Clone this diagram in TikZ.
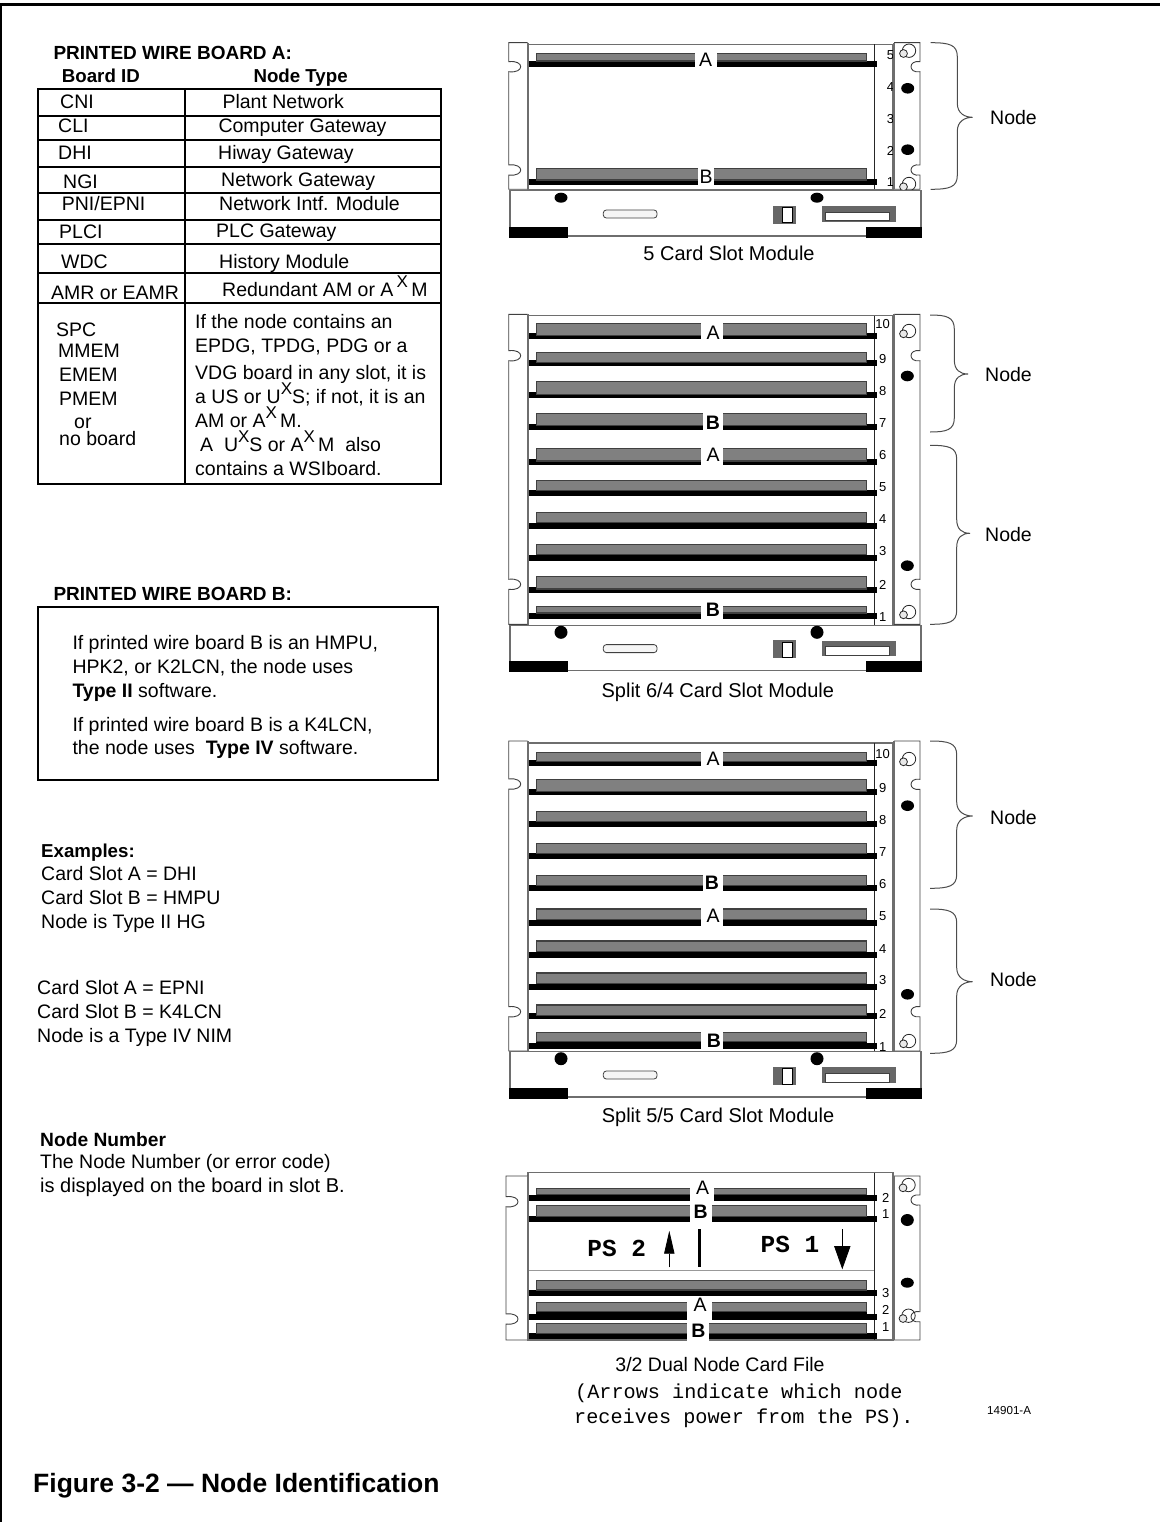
\documentclass[tikz,border=0pt]{standalone}
\usepackage{fontspec}
\setmainfont{Liberation Sans}
\newfontfamily\typefont{Liberation Mono}
\usetikzlibrary{arrows.meta,positioning}
\definecolor{cCard}{HTML}{808080}
\definecolor{cEdge}{HTML}{404040}
\definecolor{cFrame}{HTML}{6E6E6E}
\definecolor{cSwirl}{HTML}{E8E8E8}

% one board: card top, card bottom, rail bottom
\newcommand{\cardrow}[3]{%
  \fill[black] (527,{#3-6}) rectangle (877,#3);
  \fill[black] (536,#2) rectangle (867,#3);
  \draw[cardbar] (536.6,#1) rectangle (866.4,#2);
}
\newcommand{\slotgap}[4]{\fill[white] (#1,#3) rectangle (#2,#4);}
% chassis with both ears: top, bottom, notch, notch
\newcommand{\chassis}[4]{%
  \draw[frameline] (528,{#1+1.5}) rectangle (893,#2);
  \draw[thinline] (874.3,{#1+1.5}) -- (874.3,#2);
}
\newcommand{\earx}{508.7}
\newcommand{\leftear}[4]{%
  \draw[earline] (527.7,#1) -- (\earx,#1) -- (\earx,{#3-5})
    .. controls ({\earx+16},{#3-7}) and ({\earx+16},{#3+7}) .. (\earx,{#3+5})
    -- (\earx,{#4-5})
    .. controls ({\earx+16},{#4-7}) and ({\earx+16},{#4+7}) .. (\earx,{#4+5})
    -- (\earx,#2) -- (527.7,#2);
  \draw[sideline] (527.7,#1) -- (527.7,#2);
}
\newcommand{\rightear}[4]{%
  \draw[earline] (894,#1) -- (920,#1) -- (920,{#3-5})
    .. controls (908,{#3-7}) and (908,{#3+7}) .. (920,{#3+5})
    -- (920,{#4-5})
    .. controls (908,{#4-7}) and (908,{#4+7}) .. (920,{#4+5})
    -- (920,#2) -- (894,#2);
  \draw[sideline] (894,#1) -- (894,#2);
}
\newcommand{\swirl}[2]{%
  \draw[thinline] ({#1+1.5},#2) circle (6.7);
  \draw[thinline,fill=cSwirl] ({#1-4},{#2+2.8}) circle (3.9);
}
% base unit below a card file: top edge, height of the two dots
\newcommand{\basepanel}[2]{%
  \draw[frameline,fill=white] (510,#1) rectangle (921,{#1+45.3});
  \fill[black] (509,{#1+36}) rectangle (568,{#1+47});
  \fill[black] (866,{#1+36}) rectangle (922,{#1+47});
  \fill[black] (561,{#1+7}) ellipse (6.5 and #2);
  \fill[black] (817,{#1+7}) ellipse (6.5 and #2);
  \draw[cEdge,line width=0.8pt,fill=black!4,rounded corners=3pt] (603.3,{#1+19.3}) rectangle (657,{#1+27.3});
  \fill[cCard!80!black] (773.3,{#1+15}) rectangle (796.3,{#1+33});
  \draw[black,fill=white] (781.7,{#1+16.5}) rectangle (791.7,{#1+32});
  \fill[cCard!80!black] (821.7,{#1+15.3}) rectangle (895.7,{#1+31});
  \draw[cEdge,fill=white] (825,{#1+21.3}) rectangle (889,{#1+30});
}
\newcommand{\nodebrace}[6]{%
  \draw[bracket] (#1,#4) .. controls ({#2-8},#4) and (#2,{#4+2}) .. (#2,{#4+14})
    -- (#2,{#5-14}) .. controls (#2,{#5-4}) and ({#3-8},#5) .. (#3,#5)
    .. controls ({#3-8},#5) and (#2,{#5+4}) .. (#2,{#5+14})
    -- (#2,{#6-14}) .. controls (#2,{#6-2}) and ({#2-8},#6) .. (#1,#6);
}
\newcommand{\supx}{\raisebox{.42em}{\fontsize{17}{17}\selectfont X}}

\begin{document}
\begin{tikzpicture}[
  x=1pt, y=-1pt,
  font=\fontsize{19.5}{22}\selectfont,
  txt/.style={anchor=west, inner sep=0pt, text height=14pt, text depth=0pt},
  head/.style={txt, font=\fontsize{18.7}{22}\selectfont\bfseries},
  midtxt/.style={txt, anchor=center},
  capt/.style={midtxt, font=\fontsize{20}{22}\selectfont},
  slotnum/.style={midtxt, font=\fontsize{13}{15}\selectfont, text height=9.5pt},
  slotA/.style={midtxt},
  slotB/.style={midtxt, font=\fontsize{19.5}{22}\selectfont\bfseries},
  cardbar/.style={draw=cEdge, fill=cCard, line width=1.2pt},
  frameline/.style={draw=cFrame, line width=1.1pt},
  thinline/.style={draw=black!85, line width=0.8pt},
  earline/.style={draw=black!75, fill=white, line width=0.9pt},
  sideline/.style={draw=cFrame, line width=2.4pt},
  bracket/.style={draw=black!70, line width=1pt},
  grid/.style={draw=black, line width=2pt},
]
\useasboundingbox (0,0) rectangle (1160,1522);

% ---------------- page frame ----------------
\draw[line width=2.4pt] (1,1522) -- (1,4.5) -- (1160,4.5);

% ---------------- printed wire board A ----------------
\node (headA) [head, font=\fontsize{19}{22}\selectfont\bfseries] at (53.3,52.3) {PRINTED WIRE BOARD A:};
\node (headId) [head] at (61.7,75.7) {Board ID};
\node (headType) [head] at (253.3,76) {Node Type};
\draw[grid] (38.3,89.3) rectangle (441,484.3);
\draw[grid] (185,89.3) -- (185,484.3);
\foreach \ly in {116,140,166.7,193.3,220,244.3,273.3,303.3}
  \draw[grid] (38.3,\ly) -- (441,\ly);
\foreach \nm/\nx/\ny/\ntxt in {
  a/60/102/CNI, b/58/126/CLI, c/58/153/DHI, d/63/182/NGI,
  e/61.7/204/PNI\slash EPNI, f/59/232/PLCI, g/61/262/WDC, h/51/292/AMR or EAMR,
  i/56/329/SPC, j/58/350/MMEM, k/59/374/EMEM, l/59/398/PMEM, m/74/421/or, n/59/438/no board}
  \node (id\nm) [txt] at (\nx,\ny) {\ntxt};
\foreach \nm/\nx/\ny/\ntxt in {
  a/222.3/102/Plant Network, b/218.3/126/Computer Gateway, c/218/153/Hiway Gateway,
  d/221/180/Network Gateway, e/219/204/Network Intf. Module, f/216/230/PLC Gateway,
  g/219/262/History Module, h/222/289/{Redundant AM or A\,\supx\,M},
  i/195/321/If the node contains an, j/195/345/{EPDG, TPDG, PDG or a},
  k/195/372/{VDG board in any slot, it is}, l/195/396/{a US or U\supx S; if not, it is an},
  m/195/420/{AM or A\supx\,M.}, n/200/444/{A\ \ U\supx S or A\supx\,M\ \ also},
  o/195/468/contains a WSIboard.}
  \node (type\nm) [txt] at (\nx,\ny) {\ntxt};

% ---------------- printed wire board B ----------------
\node (headB) [head, font=\fontsize{19}{22}\selectfont\bfseries] at (53.3,593.3) {PRINTED WIRE BOARD B:};
\draw[grid] (38.3,607.3) rectangle (438.3,780);
\node (bLineA) [txt] at (72.3,642.3) {If printed wire board B is an HMPU,};
\node (bLineB) [txt] at (72.3,666) {HPK2, or K2LCN, the node uses};
\node (bLineC) [txt] at (72.3,690) {\textbf{Type II} software.};
\node (bLineD) [txt] at (72.3,724) {If printed wire board B is a K4LCN,};
\node (bLineE) [txt] at (72.3,747.3) {the node uses\ \ \textbf{Type IV} software.};

% ---------------- examples ----------------
\node (exHead) [head] at (41,850) {Examples:};
\node (exA) [txt] at (41,873) {Card Slot A = DHI};
\node (exB) [txt] at (41,897) {Card Slot B = HMPU};
\node (exC) [txt] at (41,921) {Node is Type II HG};
\node (exD) [txt] at (37,987) {Card Slot A = EPNI};
\node (exE) [txt] at (37,1011) {Card Slot B = K4LCN};
\node (exF) [txt] at (37,1035) {Node is a Type IV NIM};
\node (numHead) [head, font=\fontsize{19.2}{22}\selectfont\bfseries] at (40,1139) {Node Number};
\node (numA) [txt] at (40,1161) {The Node Number (or error code)};
\node (numB) [txt, font=\fontsize{20}{22}\selectfont] at (40,1185) {is displayed on the board in slot B.};

% ---------------- 5 card slot module ----------------
\chassis{42.7}{189.3}{66.7}{170}
\cardrow{53.3}{61}{66.7}
\cardrow{168.3}{180}{185}
\slotgap{694.7}{716.7}{50}{68}
\slotgap{698}{714.3}{166}{187}
\node (fiveA) [slotA] at (705.5,60) {A};
\node (fiveB) [slotA] at (706,176.7) {B};
\foreach \n/\ny in {5/54.3,4/87,3/118.7,2/151,1/182}
  \node (fiveN\n) [slotnum] at (890.5,\ny) {\n};
\leftear{42.7}{189.3}{66.7}{170}
\rightear{42.7}{189.3}{66.7}{170}
\swirl{907.5}{50.7}
\swirl{907.5}{184}
\fill[black] (907.7,88.3) ellipse (6.5 and 5.3);
\fill[black] (907.7,149.7) ellipse (6.5 and 5.3);
\basepanel{190.7}{5}
\nodebrace{930.7}{957.3}{972.7}{42.7}{117.3}{189.3}
\node (fiveNode) [txt] at (990,118) {Node};
\node (fiveCap) [capt] at (729,254) {5 Card Slot Module};

% ---------------- split 6/4 module ----------------
\chassis{314.3}{625.3}{355.7}{584.3}
\foreach \ct/\cb/\rb in {323.3/335.7/339, 352.3/362.3/365.7, 381.7/394.3/397.7,
  413.3/425.7/429.7, 448.3/461/465, 480.3/490.3/495.7, 512.3/522.3/529,
  544.3/554.3/561, 576.3/589/593, 606.3/613/619}
  \cardrow{\ct}{\cb}{\rb}
\slotgap{701}{723}{321}{341}
\slotgap{703}{723}{411}{432}
\slotgap{701}{723}{446}{467}
\slotgap{701}{723}{604}{620}
\node (sixA) [slotA] at (713,332.3) {A};
\node (sixB) [slotB] at (713,422.3) {B};
\node (fourA) [slotA] at (713,454) {A};
\node (fourB) [slotB] at (713,609) {B};
\foreach \n/\ny in {10/324,9/359,8/391,7/423,6/455,5/487,4/519,3/551,2/585,1/617}
  \node (sixN\n) [slotnum] at (882.7,\ny) {\n};
\leftear{314.3}{624.3}{355.7}{584.3}
\rightear{314.3}{624.3}{355.7}{584.3}
\swirl{907.5}{331}
\swirl{907.5}{612}
\fill[black] (907.3,376) ellipse (6.5 and 5.3);
\fill[black] (907.3,565.7) ellipse (6.5 and 5.3);
\basepanel{625.3}{6.5}
\nodebrace{930}{954.3}{968}{315}{374}{432}
\nodebrace{930}{956.7}{970}{445.3}{533.3}{624.3}
\node (sixNode) [txt] at (985,374) {Node};
\node (fourNode) [txt] at (985,534.3) {Node};
\node (sixCap) [capt] at (717.8,690.7) {Split 6/4 Card Slot Module};

% ---------------- split 5/5 module ----------------
\chassis{741.5}{1051.7}{784}{1011.7}
\foreach \ct/\cb/\rb in {752.3/761.7/766, 779.3/791.7/795, 811.3/821.7/826.7,
  843.3/853.3/858.7, 875.3/885.7/890.7, 909/919.3/925.7, 941/951.7/957.7,
  973/983.7/989.7, 1005/1015.7/1018.7, 1032.3/1041.7/1049}
  \cardrow{\ct}{\cb}{\rb}
\slotgap{701}{723}{750}{768}
\slotgap{703}{723}{873}{892}
\slotgap{701}{723}{907}{927}
\slotgap{701}{723}{1030}{1051}
\node (fiveTopA) [slotA] at (713,758.3) {A};
\node (fiveTopB) [slotB] at (712,882.7) {B};
\node (fiveLowA) [slotA] at (713,915) {A};
\node (fiveLowB) [slotB] at (714,1040) {B};
\foreach \n/\ny in {10/753.3,9/787.7,8/820,7/852,6/884,5/916,4/948.7,3/980,2/1014,1/1046.7}
  \node (splitN\n) [slotnum] at (882.7,\ny) {\n};
\leftear{741}{1051}{784}{1011.7}
\rightear{741}{1051}{784.3}{1011.7}
\swirl{907.5}{759}
\swirl{907.5}{1041}
\fill[black] (907.5,805.7) ellipse (6.5 and 5.3);
\fill[black] (907.5,994.3) ellipse (6.5 and 5.3);
\basepanel{1051.7}{6.5}
\nodebrace{930}{956.7}{972.7}{741}{816}{888.3}
\nodebrace{930}{956.7}{972.7}{909}{981.7}{1053.3}
\node (splitNode) [txt] at (990,817) {Node};
\node (lowNode) [txt] at (990,979) {Node};
\node (splitCap) [capt] at (718,1115) {Split 5/5 Card Slot Module};

% ---------------- 3/2 dual node card file ----------------
\renewcommand{\earx}{506}
\chassis{1171.2}{1340}{1201.7}{1319}
\draw[draw=cFrame!70, line width=1pt] (528,1270) -- (874,1270);
\foreach \ct/\cb/\rb in {1188.3/1194.7/1200.7, 1205.7/1216.7/1222, 1280.7/1290/1296,
  1302.3/1311.7/1319.7, 1323.3/1333.3/1339}
  \cardrow{\ct}{\cb}{\rb}
\slotgap{690}{714.3}{1176}{1202}
\slotgap{690}{712}{1202}{1224}
\slotgap{687.3}{711.7}{1298}{1321}
\slotgap{687}{709}{1321}{1341}
\node (dualTopA) [slotA] at (702.7,1187) {A};
\node (dualTopB) [slotB] at (700.7,1211.7) {B};
\node (dualLowA) [slotA] at (700,1304) {A};
\node (dualLowB) [slotB] at (698.3,1330.7) {B};
\foreach \nm/\n/\ny in {a/2/1197.7,b/1/1214,c/3/1293,d/2/1310,e/1/1326.7}
  \node (dualN\nm) [slotnum] at (885.7,\ny) {\n};
\leftear{1176}{1340}{1201.7}{1319}
\rightear{1176}{1340}{1200}{1316.7}
\swirl{907}{1185}
\swirl{907}{1315.7}
\fill[black] (907.3,1220) ellipse (6.5 and 6);
\fill[black] (907.3,1282.7) ellipse (6.5 and 5);
\node (psTwo) [midtxt, font=\fontsize{24.4}{26}\selectfont\typefont\bfseries] at (616.7,1249.3) {PS 2};
\node (psOne) [midtxt, font=\fontsize{24.4}{26}\selectfont\typefont\bfseries] at (790,1245.7) {PS 1};
\coordinate (upFrom) at (669.3,1267.3);
\coordinate (upTo) at (669.3,1230.7);
\coordinate (downFrom) at (842.3,1229.3);
\coordinate (downTo) at (842.3,1269.3);
\coordinate (barTop) at (699.3,1229.3);
\coordinate (barEnd) at (699.3,1267.3);
\draw[-{Triangle[width=10.3pt,length=23pt]}, line width=0.8pt] (upFrom) -- (upTo);
\draw[-{Triangle[width=16.3pt,length=23.3pt]}, line width=0.8pt] (downFrom) -- (downTo);
\draw[line width=2.6pt] (barTop) -- (barEnd);
\node (dualCap) [midtxt] at (720,1364) {3/2 Dual Node Card File};
\node (dualNoteA) [txt, font=\fontsize{20.2}{22}\selectfont\typefont] at (575,1391) {(Arrows indicate which node};
\node (dualNoteB) [txt, font=\fontsize{20.2}{22}\selectfont\typefont] at (574,1416) {receives power from the PS).};
\node (drawNo) [txt, font=\fontsize{11.6}{13}\selectfont, text height=8.5pt] at (987,1410) {14901-A};

% ---------------- figure title ----------------
\node (figTitle) [txt, font=\fontsize{26.5}{30}\selectfont\bfseries, text height=19pt] at (33,1482.7) {Figure 3-2 --- Node Identification};

\end{tikzpicture}
\end{document}
